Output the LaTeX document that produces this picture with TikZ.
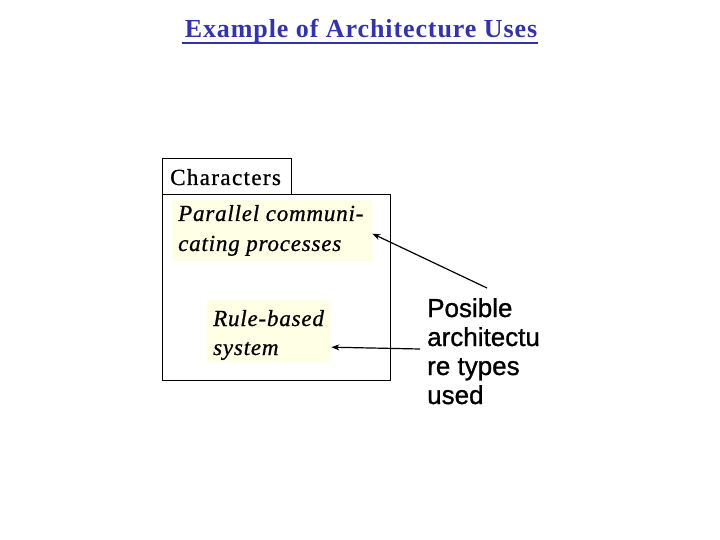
\documentclass[tikz,border=0pt]{standalone}
\usepackage{fontspec}
\setmainfont{Liberation Serif}
\newfontfamily\titlefont[LetterSpace=3.5]{Liberation Serif}
\newfontfamily\spacedserif[LetterSpace=6,FakeBold=0.8]{Liberation Serif}
\newfontfamily\italserif[LetterSpace=3.5,FakeBold=0.8]{Liberation Serif}
\newfontfamily\armsans[FakeBold=1]{Liberation Sans}
\usetikzlibrary{arrows.meta}
\definecolor{titleblue}{HTML}{3333AA}
\definecolor{paleyellow}{HTML}{FFFFE6}
\tikzset{
  frame/.style={draw=black, line width=0.9pt},
  hl/.style={fill=paleyellow, draw=none, anchor=north west, inner sep=0pt},
  itext/.style={anchor=base west, inner sep=0pt, font=\italserif\fontsize{23}{23}\selectfont\itshape},
  stext/.style={anchor=base west, inner sep=0pt, font=\armsans\fontsize{26}{26}\selectfont},
  pointer/.style={draw=black, line width=1.2pt, -{Stealth[length=8pt,width=6pt]}}
}
\begin{document}
\begin{tikzpicture}[x=1pt,y=-1pt]
\useasboundingbox[fill=white] (0,0) rectangle (720,540);
% title
\node[anchor=base, inner sep=0pt, text=titleblue, font=\titlefont\fontsize{26}{26}\selectfont\bfseries] (title) at (361,38) {Example of Architecture Uses};
\draw[titleblue, line width=1.8pt] (182,43) -- (538,43);
% tab and main box
\node[frame, anchor=north west, minimum width=129pt, minimum height=36pt, inner sep=0pt] (tab) at (162,158) {};
\node[anchor=base west, inner sep=0pt, font=\spacedserif\fontsize{23}{23}\selectfont] (tabtext) at (170,185) {Characters};
\node[frame, anchor=north west, minimum width=228pt, minimum height=186pt, inner sep=0pt] (box) at (162,194) {};
% highlighted texts
\node[hl, minimum width=200pt, minimum height=61pt] (par) at (172,200) {};
\node[itext] (par1) at (178,221) {Parallel communi-};
\node[itext] (par2) at (178,251) {cating processes};
\node[hl, minimum width=123pt, minimum height=62pt] (rule) at (207,300) {};
\node[itext] (rule1) at (213,326) {Rule-based};
\node[itext] (rule2) at (213,355) {system};
% right text
\node[stext] (p1) at (427,317) {Posible};
\node[stext] (p2) at (427,346) {architectu};
\node[stext] (p3) at (427,375) {re types};
\node[stext] (p4) at (427,404) {used};
\coordinate (s1) at (487,288);
\coordinate (s2) at (420,349);
\draw[pointer] (s1) -- ([yshift=-3pt]par.east);
\draw[pointer] (s2) -- ([yshift=-16pt,xshift=1pt]rule.east);
\end{tikzpicture}
\end{document}
